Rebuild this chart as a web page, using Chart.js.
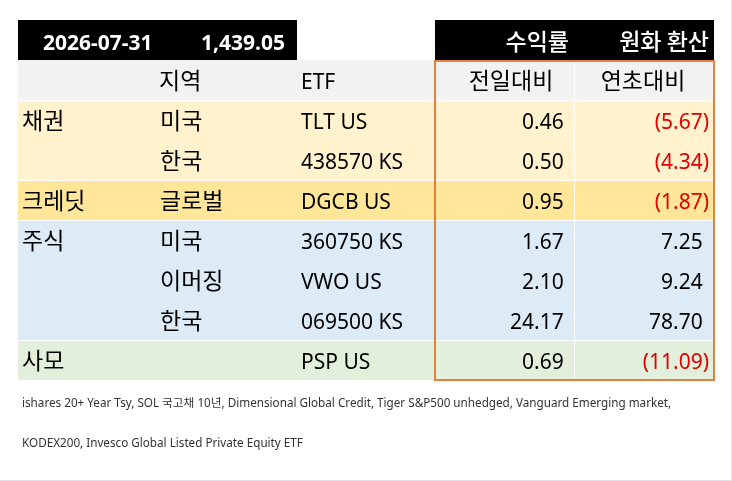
<!DOCTYPE html>
<html lang="ko">
<head>
<meta charset="utf-8">
<script src="https://cdn.jsdelivr.net/npm/chart.js@4.4.1/dist/chart.umd.min.js"></script>
<style>
  html, body { margin: 0; padding: 0; background: #fff; }
  #wrap { position: relative; width: 732px; height: 481px; box-sizing: border-box;
          border-right: 1px solid #dfe3e8; border-bottom: 1px solid #dfe3e8; }
  canvas { display: block; }
</style>
</head>
<body>
<div id="wrap"><canvas id="tbl" width="731" height="480"></canvas></div>
<script>
// ---- data ----
const reportDate = "2026-07-31";
const usdKrw = 1439.05;
const groupTitles = ["수익률", "원화 환산"];
const columnTitles = ["지역", "ETF", "전일대비", "연초대비"];
const assetClasses = ["채권", "", "크레딧", "주식", "", "", "사모"];
const regions = ["미국", "한국", "글로벌", "미국", "이머징", "한국", ""];
const tickers = ["TLT US", "438570 KS", "DGCB US", "360750 KS", "VWO US", "069500 KS", "PSP US"];
const dailyChange = [0.46, 0.50, 0.95, 1.67, 2.10, 24.17, 0.69];
const ytdChange = [-5.67, -4.34, -1.87, 7.25, 9.24, 78.70, -11.09];
const footnotes = [
  "ishares 20+ Year Tsy, SOL 국고채 10년, Dimensional Global Credit, Tiger S&P500 unhedged, Vanguard Emerging market,",
  "KODEX200, Invesco Global Listed Private Equity ETF"
];

// ---- layout / styles ----
// column edges on the hidden x axis (0..731)
const EDGE = { left: 18, dateEnd: 297, label: 435, mid: 574, right: 714 };
const groupFill = { "채권": "#fff2cc", "크레딧": "#ffe699", "주식": "#ddebf7", "사모": "#e2efda" };
const FONT = '"Noto Sans", "Noto Sans CJK KR", sans-serif';
const KFONT = '"Noto Sans CJK KR", sans-serif';

const rowKeys = ["head", "cols", ...tickers, "note1", "note2"];
const firstData = 2;
let cur = "";
const groups = assetClasses.map(a => (cur = a || cur));
const rowFill = rowKeys.map((_, r) => {
  if (r === 1) return "#f2f2f2";
  const i = r - firstData;
  return i >= 0 && i < tickers.length ? groupFill[groups[i]] : null;
});
const groupStart = rowKeys.map((_, r) => {
  const i = r - firstData;
  return i >= 0 && i < tickers.length && (i === 0 || groups[i] !== groups[i - 1]);
});
const inTable = r => r >= 1 && r < firstData + tickers.length;

function band(from, to, test) {
  return rowKeys.map((_, r) => (test(r) ? [from, to] : null));
}

const bandOpts = {
  backgroundColor: c => rowFill[c.dataIndex] || "#fff",
  borderColor: "#ffffff",
  borderSkipped: false,
  inflateAmount: 0,
  grouped: false,
  barPercentage: 1,
  categoryPercentage: 1
};

const fmt = v => (v < 0 ? "(" + Math.abs(v).toFixed(2) + ")" : v.toFixed(2));

const tableText = {
  id: "tableText",
  afterDatasetsDraw(chart) {
    const { ctx, scales: { x, y } } = chart;
    const px = v => x.getPixelForValue(v);
    const base = (r, dy) => y.getPixelForValue(r) + dy;
    const top = r => y.getPixelForValue(r) - 20;

    ctx.save();
    // orange frame around the return columns
    ctx.strokeStyle = "#e8803c";
    ctx.lineWidth = 2;
    ctx.strokeRect(px(EDGE.label), top(1) + 1, px(EDGE.right) - px(EDGE.label),
                   top(firstData + tickers.length) - top(1) - 1);

    ctx.textBaseline = "alphabetic";
    // header line
    ctx.fillStyle = "#fff";
    ctx.font = "bold 21px " + FONT;
    ctx.textAlign = "left";
    ctx.fillText(reportDate, 43, base(0, 10));
    ctx.textAlign = "right";
    ctx.fillText(usdKrw.toLocaleString("en-US", { minimumFractionDigits: 2 }), 285, base(0, 10));
    ctx.font = "500 23px " + KFONT;
    ctx.fillText(groupTitles[0], 569, base(0, 10));
    ctx.fillText(groupTitles[1], 709, base(0, 10));

    // column titles
    ctx.fillStyle = "#000";
    ctx.font = "23px " + KFONT;
    ctx.textAlign = "left";
    ctx.fillText(columnTitles[0], 159, base(1, 9));
    ctx.textAlign = "center";
    ctx.fillText(columnTitles[2], 511, base(1, 9));
    ctx.fillText(columnTitles[3], 643, base(1, 9));
    ctx.font = "21px " + FONT;
    ctx.textAlign = "left";
    ctx.fillText(columnTitles[1], 301, base(1, 9));

    // body rows
    const paren = ctx.measureText(")").width;
    tickers.forEach((t, i) => {
      const r = firstData + i;
      const b = base(r, 9);
      ctx.fillStyle = "#000";
      ctx.textAlign = "left";
      ctx.font = "23px " + KFONT;
      if (assetClasses[i]) ctx.fillText(assetClasses[i], 22, b);
      if (regions[i]) ctx.fillText(regions[i], 160, b);
      ctx.font = "21px " + FONT;
      ctx.fillText(t, 301, b);
      ctx.textAlign = "right";
      const d = dailyChange[i];
      ctx.fillStyle = d < 0 ? "#e00000" : "#000";
      ctx.fillText(fmt(d), d < 0 ? 570 : 570 - paren, b);
      const yv = ytdChange[i];
      ctx.fillStyle = yv < 0 ? "#e00000" : "#000";
      ctx.fillText(fmt(yv), yv < 0 ? 709 : 709 - paren, b);
    });

    // footnotes
    ctx.fillStyle = "#333";
    ctx.font = "11.7px " + FONT;
    ctx.textAlign = "left";
    footnotes.forEach((f, k) => {
      ctx.fillText(f, 22, base(firstData + tickers.length + k, 7));
    });
    ctx.restore();
  }
};

new Chart(document.getElementById("tbl"), {
  type: "bar",
  data: {
    labels: rowKeys,
    datasets: [
      Object.assign({}, bandOpts, { label: "date", data: band(EDGE.left, EDGE.dateEnd, r => r === 0),
        backgroundColor: "#000", borderWidth: 0 }),
      Object.assign({}, bandOpts, { label: "returns", data: band(EDGE.label, EDGE.right, r => r === 0),
        backgroundColor: "#000", borderWidth: 0 }),
      Object.assign({}, bandOpts, { label: "names", data: band(EDGE.left, EDGE.label, inTable),
        borderWidth: c => ({ top: groupStart[c.dataIndex] ? 1 : 0, left: 0, right: 0, bottom: 0 }) }),
      Object.assign({}, bandOpts, { label: "daily", data: band(EDGE.label, EDGE.mid, inTable),
        borderWidth: c => ({ top: groupStart[c.dataIndex] ? 1 : 0, left: 0, right: 0, bottom: 0 }) }),
      Object.assign({}, bandOpts, { label: "ytd", data: band(EDGE.mid, EDGE.right, inTable),
        borderWidth: c => ({ top: groupStart[c.dataIndex] ? 1 : 0, left: 1, right: 0, bottom: 0 }) })
    ]
  },
  options: {
    indexAxis: "y",
    responsive: false,
    devicePixelRatio: 1,
    animation: false,
    events: [],
    layout: { padding: { top: 20, bottom: 20, left: 0, right: 0 } },
    plugins: { legend: { display: false }, tooltip: { enabled: false } },
    scales: {
      x: { type: "linear", min: 0, max: 731, display: false },
      y: { type: "category", display: false, offset: true, grid: { display: false } }
    }
  },
  plugins: [tableText]
});
</script>
</body>
</html>
